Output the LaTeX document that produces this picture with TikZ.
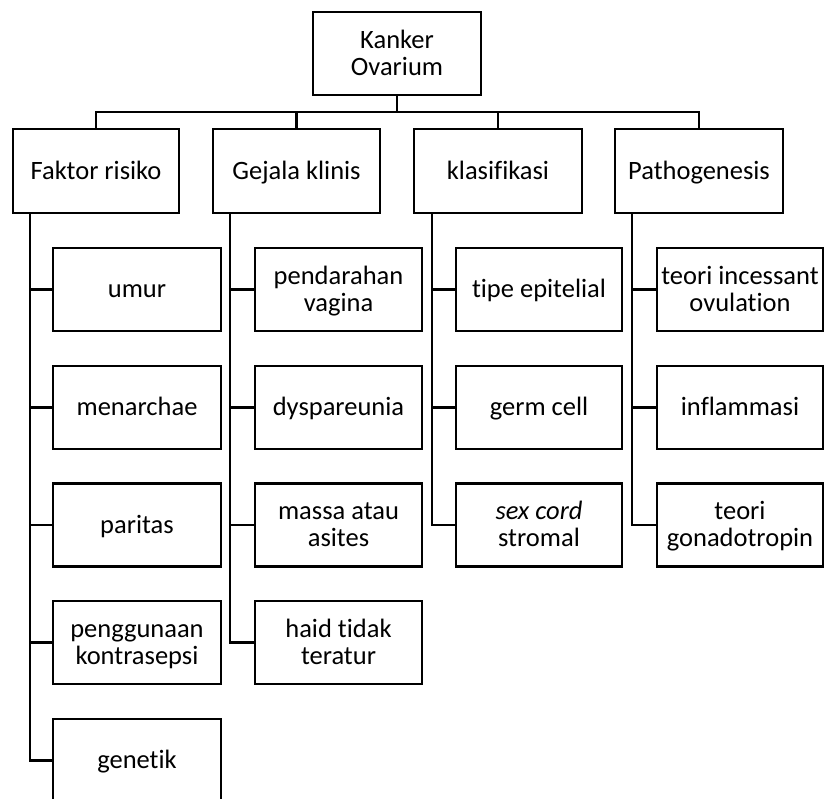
\documentclass[tikz,border=0pt]{standalone}
\usepackage{fontspec}
\setmainfont{Carlito}[Ligatures=NoCommon]
\newcommand\lnst{\rule[-5.2pt]{0pt}{27pt}}
\begin{document}
\begin{tikzpicture}[x=1pt,y=-1pt,
  box/.style={draw=black, line width=2.7pt, align=center, inner sep=0pt,
    minimum height=83pt, font=\fontsize{26.5}{27}\selectfont},
  conn/.style={draw=black, line width=2.8pt}]
\useasboundingbox (0,0) rectangle (824,799);
% root
\node[box, minimum width=168pt] (root) at (397,53.5) {\lnst Kanker\\\lnst Ovarium};
% level 1
\node[box, minimum width=166pt, minimum height=84pt] (f) at (96,171) {\lnst Faktor risiko};
\node[box, minimum width=167pt, minimum height=84pt] (g) at (296.5,171) {\lnst Gejala klinis};
\node[box, minimum width=168pt, minimum height=84pt] (k) at (498,171) {\lnst klasifikasi};
\node[box, minimum width=168pt, minimum height=84pt] (p) at (699,171) {\lnst Pathogenesis};
% column 1
\node[box, minimum width=168pt] (f1) at (137,289.5) {\lnst umur};
\node[box, minimum width=168pt] (f2) at (137,407.5) {\lnst menarchae};
\node[box, minimum width=168pt] (f3) at (137,525) {\lnst paritas};
\node[box, minimum width=168pt] (f4) at (137,642.5) {\lnst penggunaan\\\lnst kontrasepsi};
\node[box, minimum width=168pt] (f5) at (137,760.5) {\lnst genetik};
% column 2
\node[box, minimum width=167pt] (g1) at (338.5,289.5) {\lnst pendarahan\\\lnst vagina};
\node[box, minimum width=167pt] (g2) at (338.5,407.5) {\lnst dyspareunia};
\node[box, minimum width=167pt] (g3) at (338.5,525) {\lnst massa atau\\\lnst asites};
\node[box, minimum width=167pt] (g4) at (338.5,642.5) {\lnst haid tidak\\\lnst teratur};
% column 3
\node[box, minimum width=166pt] (k1) at (539,289.5) {\lnst tipe epitelial};
\node[box, minimum width=166pt] (k2) at (539,407.5) {\lnst germ cell};
\node[box, minimum width=166pt] (k3) at (539,525) {\lnst\textit{sex cord}\\\lnst stromal};
% column 4
\node[box, minimum width=166pt] (p1) at (740,289.5) {\lnst teori incessant\\\lnst ovulation};
\node[box, minimum width=166pt] (p2) at (740,407.5) {\lnst inflammasi};
\node[box, minimum width=166pt] (p3) at (740,525) {\lnst teori\\\lnst gonadotropin};
% helper coordinates
\coordinate (bus) at (0,112);
\coordinate (t1) at (30,0);
\coordinate (t2) at (230,0);
\coordinate (t3) at (432,0);
\coordinate (t4) at (632,0);
% bus connectors
\draw[conn] (root.south) -- (root.south |- bus) -| (f.north);
\draw[conn] (root.south |- bus) -| (g.north);
\draw[conn] (root.south |- bus) -| (k.north);
\draw[conn] (root.south |- bus) -| (p.north);
% column trunks
\foreach \c in {f1,f2,f3,f4,f5} \draw[conn] (f.south -| t1) |- (\c.west);
\foreach \c in {g1,g2,g3,g4} \draw[conn] (g.south -| t2) |- (\c.west);
\foreach \c in {k1,k2,k3} \draw[conn] (k.south -| t3) |- (\c.west);
\foreach \c in {p1,p2,p3} \draw[conn] (p.south -| t4) |- (\c.west);
\end{tikzpicture}
\end{document}
